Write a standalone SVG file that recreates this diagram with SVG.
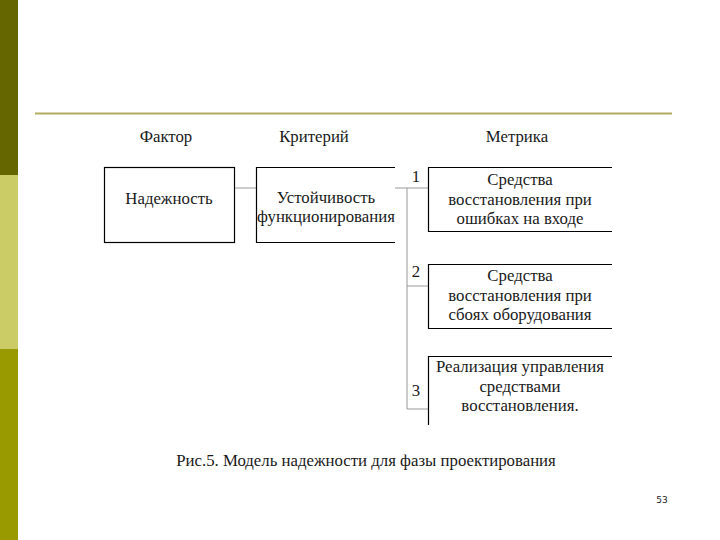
<svg xmlns="http://www.w3.org/2000/svg" width="720" height="540" viewBox="0 0 720 540">
<style>
text{font-family:"Liberation Serif","Times New Roman",serif;font-size:16.8px;fill:#1a1a1a;text-anchor:middle}
.box{fill:none;stroke:#000;stroke-width:1.2}
.conn{fill:none;stroke:#999;stroke-width:1}
</style>
<rect x="0" y="0" width="720" height="540" fill="#fff"/>
<rect x="0" y="0" width="18" height="175" fill="#666600"/>
<rect x="0" y="175" width="18" height="174" fill="#cccc66"/>
<rect x="0" y="349" width="18" height="191" fill="#999900"/>
<line x1="35" y1="113.5" x2="672" y2="113.5" stroke="#b3ab60" stroke-width="2"/>
<g id="headers">
<text x="166" y="142">Фактор</text>
<text x="314" y="142">Критерий</text>
<text x="517" y="142">Метрика</text>
</g>
<g id="connectors">
<path class="conn" d="M234 188H256"/>
<path class="conn" d="M395 188H428M407 188V409M407 286H428M407 409H428"/>
</g>
<g id="n1">
<rect class="box" x="104.5" y="167.5" width="130" height="75"/>
<text x="169" y="204">Надежность</text>
</g>
<g id="n2">
<path class="box" d="M395 167.5H256.5V242.5H395"/>
<text x="326" y="203">Устойчивость</text>
<text x="326" y="222">функционирования</text>
</g>
<g id="m1">
<path class="box" d="M612 167.5H428.5V231.5H612"/>
<text x="416" y="182">1</text>
<text x="520" y="185">Средства</text>
<text x="520" y="205">восстановления при</text>
<text x="520" y="224">ошибках на входе</text>
</g>
<g id="m2">
<path class="box" d="M612 264.5H428.5V328.5H612"/>
<text x="416" y="277">2</text>
<text x="520" y="281">Средства</text>
<text x="520" y="301">восстановления при</text>
<text x="520" y="320">сбоях оборудования</text>
</g>
<g id="m3">
<path class="box" d="M612 356.5H428.5V425"/>
<text x="416" y="396">3</text>
<text x="520" y="372">Реализация управления</text>
<text x="520" y="392">средствами</text>
<text x="520" y="411">восстановления.</text>
</g>
<text x="366" y="466">Рис.5. Модель надежности для фазы проектирования</text>
<text x="662" y="503" style="font-family:'DejaVu Sans',sans-serif;font-size:9px">53</text>
</svg>
